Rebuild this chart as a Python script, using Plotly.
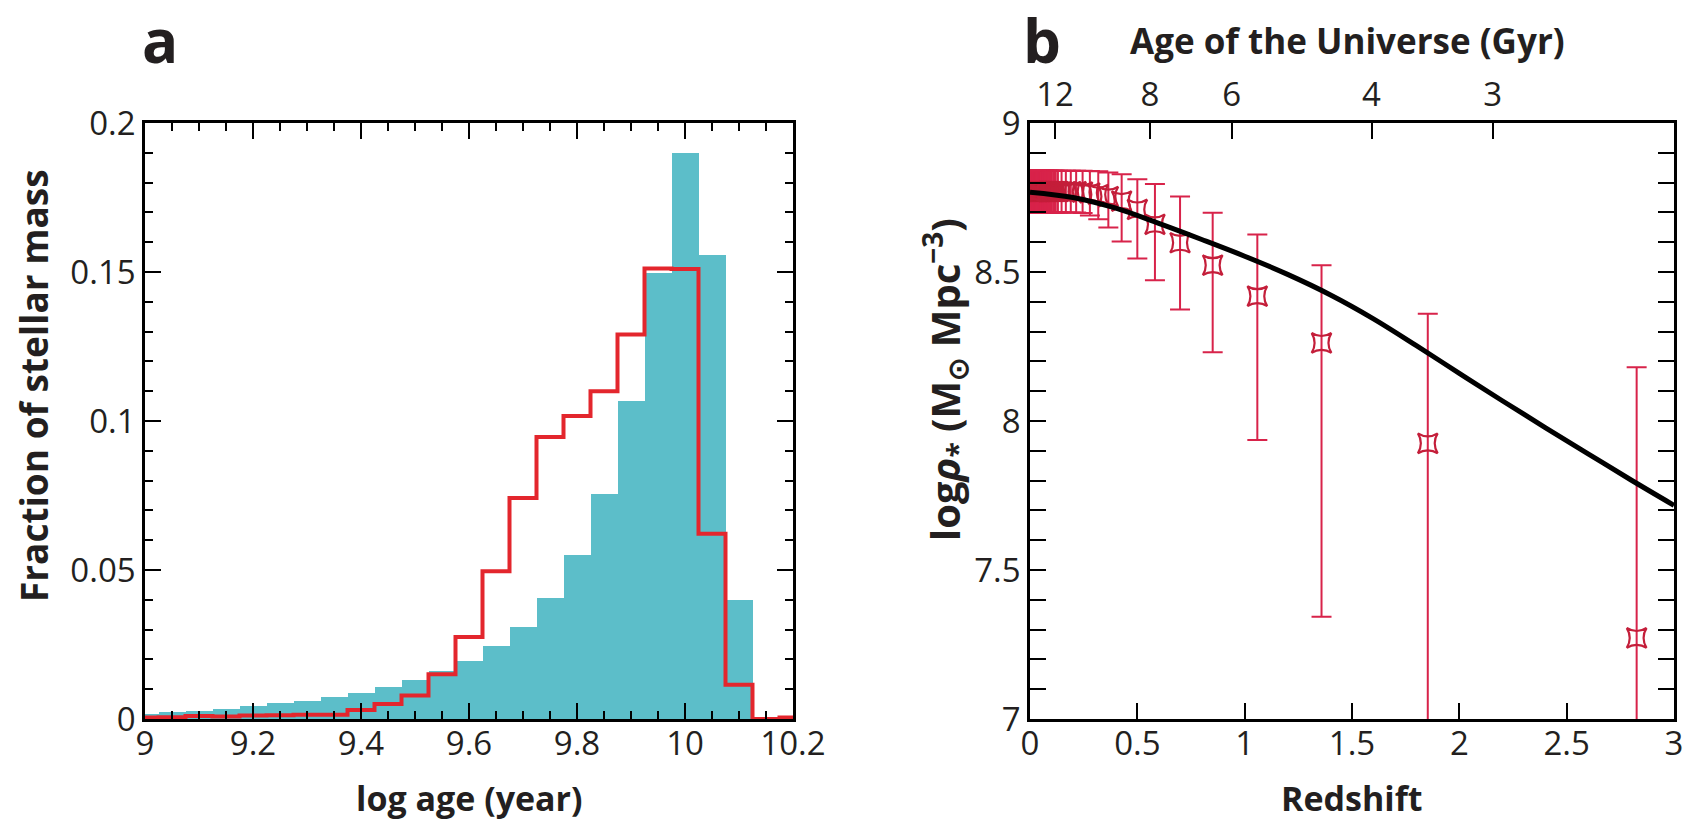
import plotly.graph_objects as go

# ---- panel a: stellar-mass fraction per log-age bin (bin width 0.05 dex)
log_age = [9.00, 9.05, 9.10, 9.15, 9.20, 9.25, 9.30, 9.35, 9.40, 9.45, 9.50, 9.55, 9.60,
           9.65, 9.70, 9.75, 9.80, 9.85, 9.90, 9.95, 10.00, 10.05, 10.10, 10.15, 10.20]
frac_fill = [0.0017, 0.0022, 0.0028, 0.0034, 0.0043, 0.0053, 0.0062, 0.0073, 0.0087, 0.0107,
             0.0130, 0.0160, 0.0195, 0.0246, 0.0310, 0.0405, 0.0550, 0.0755, 0.1066, 0.1495,
             0.1900, 0.1557, 0.0400, 0.0, 0.0]
frac_line = [0.0005, 0.0006, 0.0010, 0.0008, 0.0012, 0.0013, 0.0014, 0.0014, 0.0030, 0.0050,
             0.0079, 0.0150, 0.0275, 0.0496, 0.0742, 0.0946, 0.1017, 0.1100, 0.1290, 0.1512,
             0.1510, 0.0622, 0.0115, 0.0, 0.0005]

# ---- panel b: stellar mass density versus redshift
model_z = [0.0, 0.2, 0.4, 0.6, 0.8, 1.0, 1.2, 1.4, 1.6, 1.8, 2.0, 2.2, 2.4, 2.6, 2.8, 3.0]
model_rho = [8.768, 8.750, 8.714, 8.663, 8.609, 8.553, 8.492, 8.423, 8.343, 8.253,
             8.160, 8.068, 7.978, 7.890, 7.802, 7.717]

obs_z = [2.826, 1.853, 1.358, 1.059, 0.851, 0.699, 0.582, 0.500, 0.427, 0.365, 0.318, 0.279,
         0.245, 0.215, 0.190, 0.167, 0.147, 0.130, 0.120, 0.114, 0.108, 0.101, 0.095, 0.089,
         0.084, 0.079, 0.074, 0.070, 0.066, 0.062, 0.058, 0.055, 0.051, 0.048, 0.045, 0.043,
         0.040, 0.038, 0.035, 0.033, 0.031, 0.029, 0.026, 0.023, 0.020, 0.017, 0.015, 0.013,
         0.011, 0.009, 0.007, 0.005, 0.003, 0.001]
obs_rho = [7.272, 7.925, 8.262, 8.419, 8.523, 8.598, 8.660, 8.710, 8.738, 8.753, 8.760, 8.765,
           8.768] + [8.770] * 41
obs_hi = [8.180, 8.360, 8.523, 8.626, 8.699, 8.753, 8.795, 8.811, 8.828, 8.834, 8.838, 8.839,
          8.840] + [8.840] * 41
obs_lo = [6.300, 6.500, 7.343, 7.936, 8.231, 8.374, 8.472, 8.545, 8.602, 8.649, 8.677, 8.690,
          8.698] + [8.700] * 41

# top axis of panel b: age of the Universe at given redshifts
age_tick_z = [0.117, 0.559, 0.939, 1.591, 2.155]
age_tick_text = ["12", "8", "6", "4", "3"]

W, H = 1696, 822
CYAN = "#5cbec9"
RED = "#e3262d"
ERR = "#d8234a"
TXT = "#231f20"
FONT = "Open Sans"

err_plus = [h - v for h, v in zip(obs_hi, obs_rho)]
err_minus = [v - l for v, l in zip(obs_rho, obs_lo)]

fig = go.Figure()

fig.add_trace(go.Bar(x=log_age, y=frac_fill, width=0.05, marker=dict(color=CYAN, line=dict(width=0)),
                     xaxis="x", yaxis="y", showlegend=False))
fig.add_trace(go.Scatter(x=log_age, y=frac_line, mode="lines", line=dict(color=RED, width=4, shape="hvh"),
                         xaxis="x", yaxis="y", showlegend=False))

fig.add_trace(go.Scatter(x=obs_z, y=obs_rho, mode="markers",
                         marker=dict(symbol="star-square-open", size=18, color="#c41e3a", line=dict(width=2.2)),
                         error_y=dict(type="data", symmetric=False, array=err_plus, arrayminus=err_minus,
                                      color=ERR, thickness=2, width=10),
                         xaxis="x2", yaxis="y2", showlegend=False))
fig.add_trace(go.Scatter(x=model_z, y=model_rho, mode="lines", line=dict(color="black", width=5, shape="spline"),
                         xaxis="x2", yaxis="y2", showlegend=False))
# invisible companion trace so the top (age) axis is drawn
fig.add_trace(go.Scatter(x=age_tick_z, y=[8.0] * len(age_tick_z), mode="markers", marker=dict(opacity=0),
                         hoverinfo="skip", xaxis="x3", yaxis="y2", showlegend=False))


def px_x(p):
    return p / W


def px_y(p):
    return 1 - p / H


tickfont = dict(family=FONT, size=33, color=TXT)
common = dict(showline=True, linecolor="black", linewidth=2.5, ticks="inside", tickcolor="black",
              tickwidth=2, showgrid=False, zeroline=False, tickfont=tickfont, automargin=False)
minor_style = dict(ticks="inside", ticklen=8, tickcolor="black", tickwidth=2, showgrid=False)

dom_a = [px_x(145), px_x(793)]
dom_b = [px_x(1030), px_x(1674)]
dom_y = [px_y(719), px_y(123)]

fig.update_layout(
    template="none",
    width=W, height=H, margin=dict(l=0, r=0, t=0, b=0, autoexpand=False),
    paper_bgcolor="white", plot_bgcolor="white", bargap=0,
    xaxis=dict(domain=dom_a, anchor="y", range=[9, 10.2], dtick=0.2, ticklen=16, mirror="allticks",
               ticklabelstandoff=-6, minor=dict(dtick=0.05, **minor_style), **common),
    yaxis=dict(domain=dom_y, anchor="x", range=[0, 0.2], dtick=0.05, ticklen=16, mirror="allticks",
               minor=dict(dtick=0.01, **minor_style), **common),
    xaxis2=dict(domain=dom_b, anchor="y2", range=[0, 3], dtick=0.5, ticklen=16, mirror=False,
                ticklabelstandoff=-6, **common),
    yaxis2=dict(domain=dom_y, anchor="x2", range=[7, 9], dtick=0.5, ticklen=16, mirror="allticks",
                minor=dict(dtick=0.1, **minor_style), **common),
    xaxis3=dict(overlaying="x2", anchor="y2", side="top", range=[0, 3], tickmode="array",
                tickvals=age_tick_z, ticktext=age_tick_text, ticklen=16, ticklabelstandoff=1, **common),
)


def label(text, x, y, size, angle=0, bold=True):
    fig.add_annotation(text=f"<b>{text}</b>" if bold else text, x=px_x(x), y=px_y(y), xref="paper", yref="paper",
                       showarrow=False, textangle=angle, xanchor="center", yanchor="middle",
                       font=dict(family=FONT, size=size, color=TXT))


label("a", 160, 40, 60)
label("b", 1042, 40, 60)
label("Age of the Universe (Gyr)", 1347, 40, 35)
label("log age (year)", 469, 798, 34)
label("Redshift", 1352, 798, 34)
label("Fraction of stellar mass", 33, 386, 37, angle=-90)
label("log<i>ρ</i><sub>*</sub> (M<sub>⊙</sub> Mpc<sup>−3</sup>)", 944, 380, 40, angle=-90)

fig.write_html("out.html")
